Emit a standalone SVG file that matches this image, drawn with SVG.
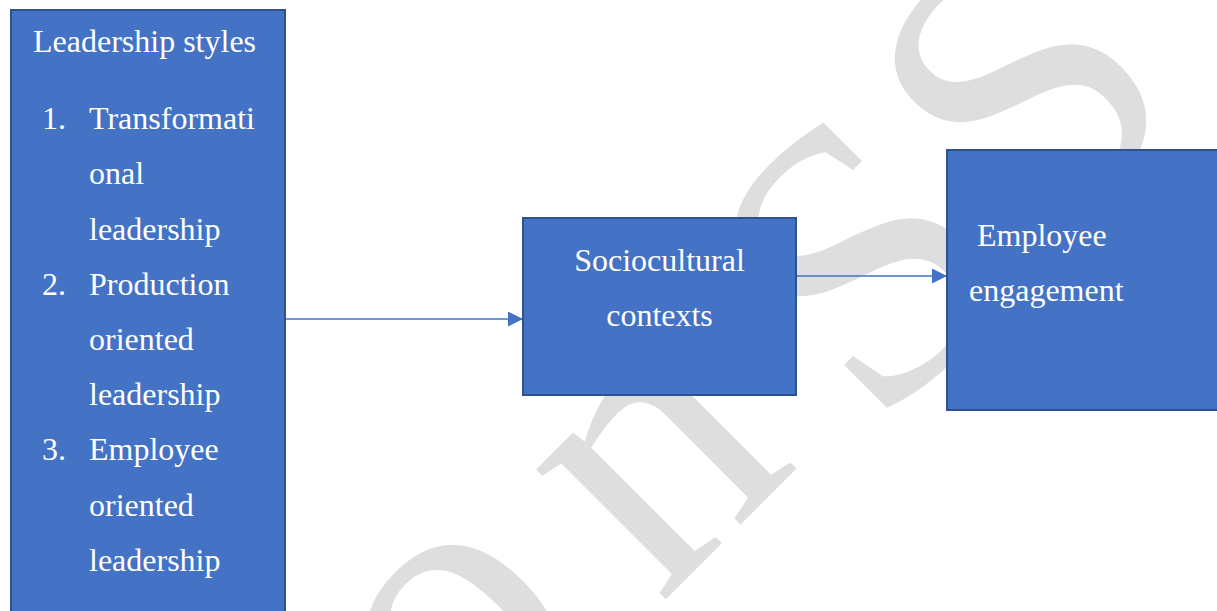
<svg xmlns="http://www.w3.org/2000/svg" width="1217" height="611" viewBox="0 0 1217 611">
  <style>
    .box { fill: #4472C4; stroke: #2F528F; stroke-width: 2; }
    .t { font-family: "Liberation Serif", "Times New Roman", serif; font-size: 32px; fill: #FFFFFF; }
    .mid { text-anchor: middle; }
    .wm { font-family: "Liberation Serif", "Times New Roman", serif; font-size: 400px; fill: #DEDEDE; text-anchor: middle; }
    .conn { stroke: #4472C4; stroke-width: 1.4; fill: none; }
  </style>
  <defs>
    <marker id="arrow" markerUnits="userSpaceOnUse" markerWidth="15" markerHeight="15" refX="15" refY="7.5" orient="auto">
      <path d="M0,0 L15,7.5 L0,15 Z" fill="#4472C4"/>
    </marker>
  </defs>
  <rect width="1217" height="611" fill="#FFFFFF"/>
  <g id="watermark">
    <text class="wm" transform="translate(463,641) rotate(-45)" x="0" y="92">o</text>
    <text class="wm" transform="translate(665,470) rotate(-45)" x="0" y="92">n</text>
    <text class="wm" transform="translate(860,262) rotate(-45)" x="0" y="132">S</text>
    <text class="wm" transform="translate(1020,88) rotate(-45)" x="0" y="132">S</text>
  </g>
  <g id="connectors">
    <path class="conn" d="M286,319 L523,319" marker-end="url(#arrow)"/>
    <path class="conn" d="M797,276 L947,276" marker-end="url(#arrow)"/>
  </g>
  <g id="leadership-styles">
    <rect class="box" x="11" y="10" width="274" height="630"/>
    <text class="t" x="33" y="52">Leadership styles</text>
    <text class="t" x="42" y="129">1.</text>
    <text class="t" x="89" y="129">Transformati</text>
    <text class="t" x="89" y="184">onal</text>
    <text class="t" x="89" y="239.5">leadership</text>
    <text class="t" x="42" y="294.5">2.</text>
    <text class="t" x="89" y="294.5">Production</text>
    <text class="t" x="89" y="350">oriented</text>
    <text class="t" x="89" y="405">leadership</text>
    <text class="t" x="42" y="460">3.</text>
    <text class="t" x="89" y="460">Employee</text>
    <text class="t" x="89" y="515.5">oriented</text>
    <text class="t" x="89" y="570.5">leadership</text>
  </g>
  <g id="sociocultural-contexts">
    <rect class="box" x="523" y="218" width="273" height="177"/>
    <text class="t mid" x="659.5" y="271">Sociocultural</text>
    <text class="t mid" x="659.5" y="326">contexts</text>
  </g>
  <g id="employee-engagement">
    <rect class="box" x="947" y="150" width="290" height="260"/>
    <text class="t" x="977" y="246">Employee</text>
    <text class="t" x="969" y="301">engagement</text>
  </g>
</svg>
